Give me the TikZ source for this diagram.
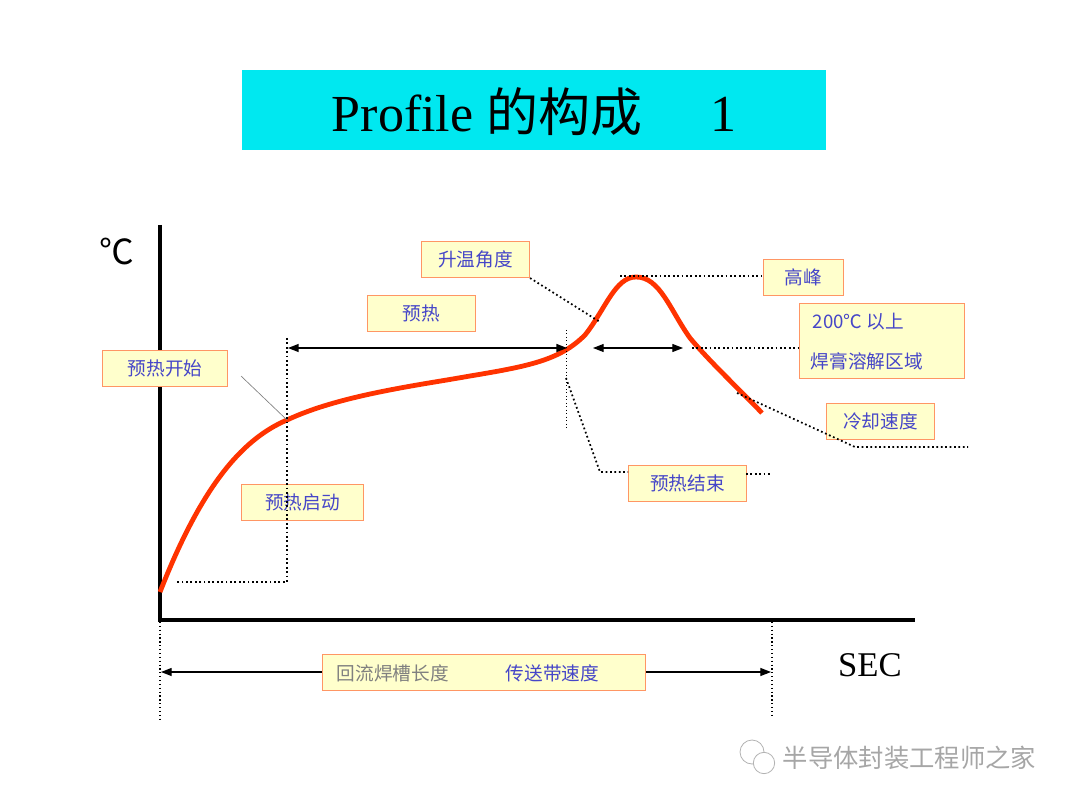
\documentclass[tikz,border=0pt]{standalone}
\usepackage{fontspec}
\setmainfont{Liberation Serif}
\newfontfamily\cjk{Noto Sans CJK SC}
\usetikzlibrary{arrows.meta}
\definecolor{boxfill}{RGB}{255,255,204}
\definecolor{boxline}{RGB}{255,150,100}
\definecolor{txtblue}{RGB}{70,70,200}
\definecolor{curvered}{RGB}{255,51,0}
\definecolor{titlecyan}{RGB}{0,232,240}
\tikzset{
 lbl/.style={draw=boxline,fill=boxfill,line width=0.8pt,inner sep=0pt,anchor=north west},
 lt/.style={text=txtblue,font=\cjk\fontsize{14}{16}\selectfont},
 dots/.style={dotted,line width=1.3pt},
 dim/.style={{Triangle[length=8pt,width=6pt]}-{Triangle[length=8pt,width=6pt]},line width=1.1pt},
}
\begin{document}
\begin{tikzpicture}[x=0.75pt,y=-0.75pt]
\useasboundingbox (0,0) rectangle (1077,805);
% title
\node[fill=titlecyan,minimum width=584*0.75pt,minimum height=80*0.75pt,anchor=north west,inner sep=0pt] (title) at (242,70) {};
\node (tt) at (534,112) {\fontsize{39}{42}\selectfont Profile {\cjk 的构成}\hspace{1.3em}1};
% axes
\draw[line width=3pt] (160,225) -- (160,619.5) -- (915,619.5);
\node (degc) at (117,252) {\fontsize{26}{28}\selectfont\cjk ℃};
\node (sec) at (870,665) {\fontsize{26}{28}\selectfont SEC};
% coordinates
\coordinate (p1) at (287,338); \coordinate (p2) at (287,582); \coordinate (p3) at (177,582);
\coordinate (a1) at (288,348); \coordinate (a2) at (567,348);
\coordinate (v1) at (566,330); \coordinate (v2) at (566,428);
\coordinate (c1) at (593,348); \coordinate (c2) at (683,348);
\coordinate (d1) at (692,348); \coordinate (d2) at (798,348);
\coordinate (k1) at (620,276); \coordinate (k2) at (762,276);
\coordinate (s2) at (600,322);
\coordinate (e1) at (566,378); \coordinate (e2) at (600,472);
\coordinate (e3) at (746,474); \coordinate (e4) at (770,474);
\coordinate (f1) at (737,393); \coordinate (f2) at (855,447); \coordinate (f3) at (968,447);
\coordinate (g1) at (241,376); \coordinate (g2) at (287,420);
\coordinate (h1) at (160,622); \coordinate (h2) at (160,722);
\coordinate (h3) at (772,622); \coordinate (h4) at (772,715);
\coordinate (h5) at (161,672); \coordinate (h6) at (771,672);
\draw[dim,line width=0.9pt] (h5) -- (h6);
% curve
\draw[curvered,line width=3.6pt] (160,592) .. controls (200,490) and (240,440) .. (287,420)
 .. controls (340,395) and (420,385) .. (470,376)
 .. controls (530,366) and (560,360) .. (585,335)
 .. controls (605,310) and (615,277) .. (636,277)
 .. controls (660,277) and (670,310) .. (690,338)
 .. controls (710,362) and (740,390) .. (762,413);
% boxes
\node[lbl,minimum width=108*0.75pt,minimum height=36*0.75pt] (b1) at (421,241) {};
\node[lt] at (b1.center) {升温角度};
\node[lbl,minimum width=108*0.75pt,minimum height=36*0.75pt] (b2) at (367,295) {};
\node[lt] at (b2.center) {预热};
\node[lbl,minimum width=125*0.75pt,minimum height=36*0.75pt] (b3) at (102,350) {};
\node[lt] at (b3.center) {预热开始};
\node[lbl,minimum width=122*0.75pt,minimum height=36*0.75pt] (b4) at (241,484) {};
\node[lt] at (b4.center) {预热启动};
\node[lbl,minimum width=80*0.75pt,minimum height=36*0.75pt] (b5) at (763,259) {};
\node[lt] at (b5.center) {高峰};
\node[lbl,minimum width=165*0.75pt,minimum height=75*0.75pt] (b6) at (799,303) {};
\node[lt,anchor=west] at (808,322) {200℃ 以上};
\node[lt,anchor=west] at (806,361) {焊膏溶解区域};
\node[lbl,minimum width=108*0.75pt,minimum height=36*0.75pt] (b7) at (826,403) {};
\node[lt] at (b7.center) {冷却速度};
\node[lbl,minimum width=118*0.75pt,minimum height=36*0.75pt] (b8) at (628,465) {};
\node[lt] at (b8.center) {预热结束};
\node[lbl,minimum width=323*0.75pt,minimum height=36*0.75pt] (b9) at (322,654) {};
\node[lt,text=gray,anchor=west] at (332,673) {回流焊槽长度};
\node[lt,anchor=west] at (501,673) {传送带速度};
% lines
\draw[dots] (p1) -- (p2) -- (p3);
\draw[dim] (a1) -- (a2);
\draw[dotted,line width=0.6pt] (v1) -- (v2);
\draw[dim,line width=0.8pt] (c1) -- (c2);
\draw[dots] (d1) -- (d2);
\draw[dots] (k1) -- (k2);
\draw[dots] (b1.south east) -- (s2);
\draw[dots] (e1) -- (e2) -- (b8.west |- e2);
\draw[dots] (e3) -- (e4);
\draw[dots] (f1) -- (f2) -- (f3);
\draw[gray,line width=0.5pt] (g1) -- (g2);
\draw[dotted,line width=0.9pt] (h1) -- (h2);
\draw[dotted,line width=0.9pt] (h3) -- (h4);
% watermark
\node[text=gray!70,anchor=west] (wm) at (778,758) {\cjk\fontsize{19}{21}\selectfont 半导体封装工程师之家};
\draw[gray!60,line width=0.6pt] (752,752) circle (9pt);
\draw[gray!60,fill=white,line width=0.6pt] (764,763) circle (8pt);
\end{tikzpicture}
\end{document}
